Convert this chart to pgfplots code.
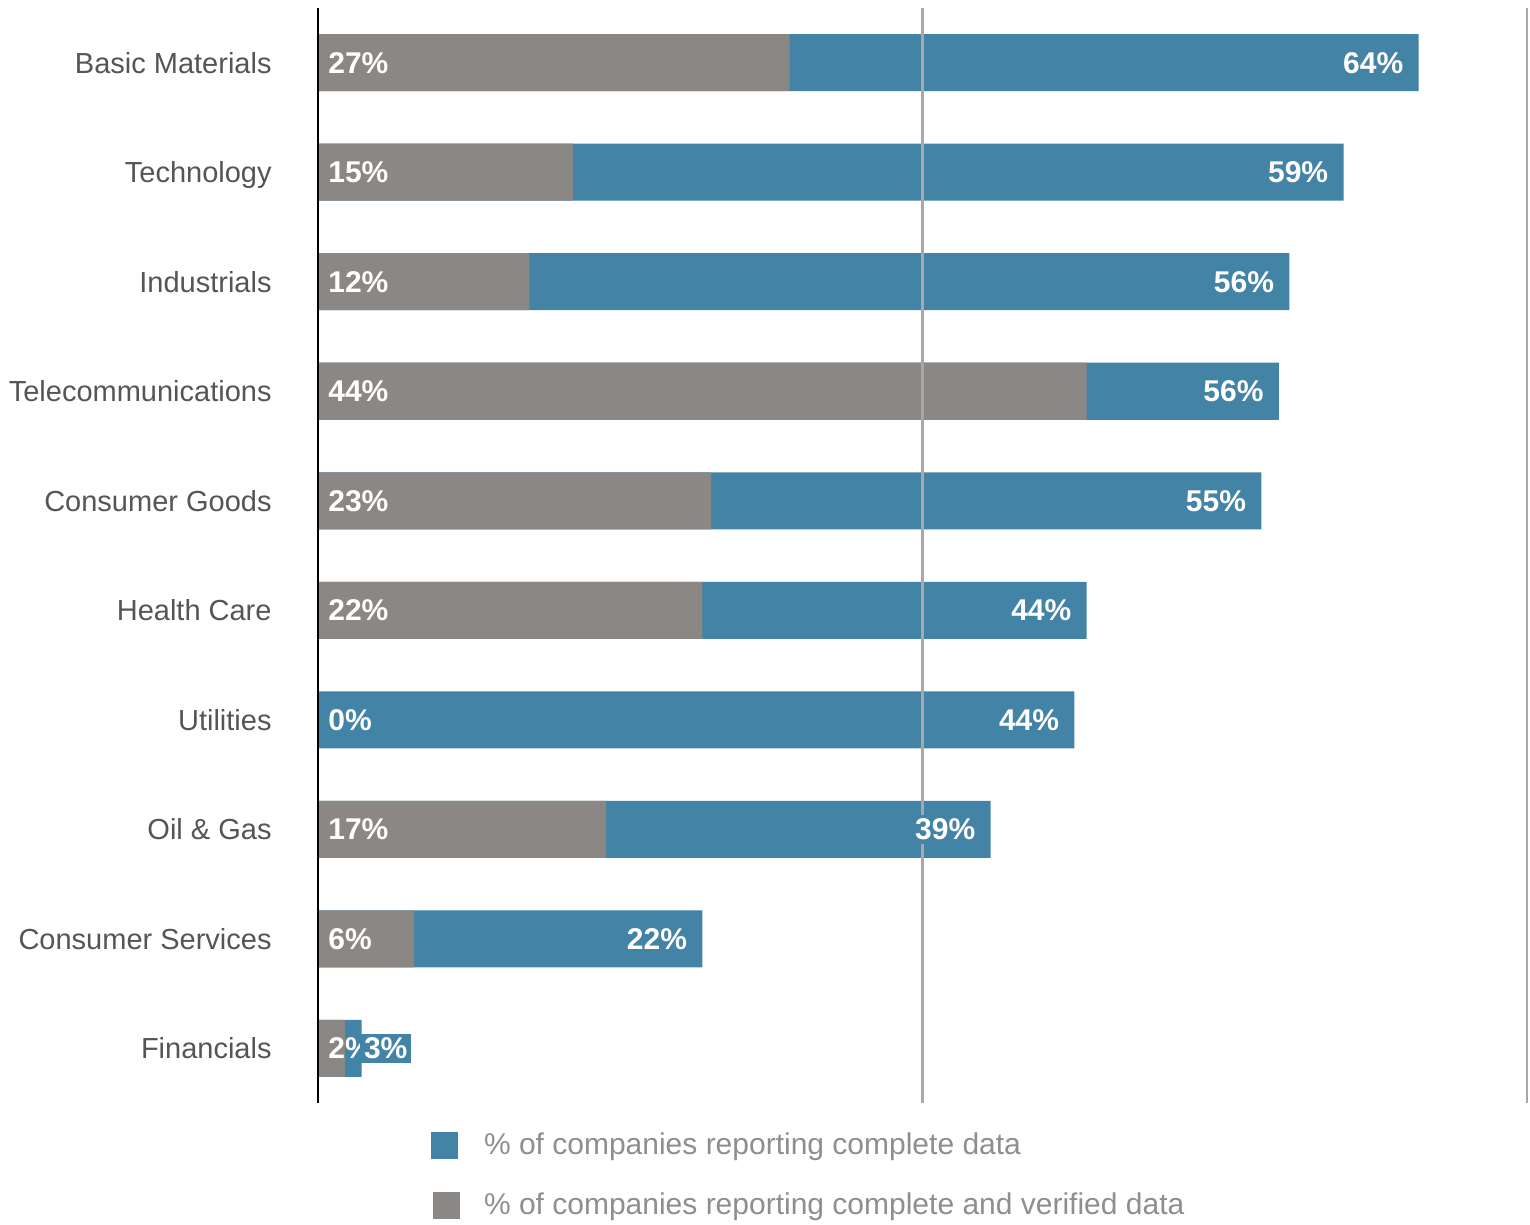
\documentclass[border=0pt]{standalone}
\usepackage{pgfplots}
\pgfplotsset{compat=1.18}
\usepackage{fontspec}
\setmainfont{Liberation Sans}
\definecolor{barblue}{HTML}{4283A6}
\definecolor{bargray}{HTML}{8B8785}
\definecolor{catgray}{HTML}{555555}
\definecolor{leggray}{HTML}{8E8E8E}
\definecolor{gridgray}{HTML}{A8A8A8}

\begin{document}
\begin{tikzpicture}
\begin{axis}[
  scale only axis,
  width=604.5pt, height=547.5pt,
  xbar, bar width=28.5pt, bar shift=0pt,
  xmin=0, xmax=69.2,
  ymin=-0.5, ymax=9.5, y dir=reverse,
  ytick={0,...,9},
  yticklabels={Basic Materials,Technology,Industrials,Telecommunications,Consumer Goods,Health Care,Utilities,Oil \& Gas,Consumer Services,Financials},
  yticklabel style={font=\fontsize{14.5}{16}\selectfont, text=catgray,
    anchor=base east, inner sep=0pt, xshift=-23pt, yshift=-5.3pt},
  major tick length=0pt,
  xtick={34.6,69.2}, xticklabels={},
  xmajorgrids, grid style={gridgray, line width=1.4pt},
  axis x line*=bottom, axis y line*=left,
  x axis line style={draw=none},
  y axis line style={black, line width=1.3pt},
  axis on top, clip=false,
  legend style={at={(axis description cs:0.0935,-0.0264)}, anchor=north west,
    draw=none, fill=none, inner sep=0pt, outer sep=0pt,
    row sep=16.4pt, column sep=12pt,
    font=\fontsize{15}{18}\selectfont, text=leggray,
    nodes={inner sep=0pt}, cells={anchor=west}},
  legend cell align=left,
]
% complete data
\addplot[fill=barblue, draw=none,
  legend image code/.code={\fill[barblue] (0pt,-6.75pt) rectangle (13.5pt,6.75pt);}]
  coordinates {(63.0,0) (58.7,1) (55.6,2) (55.0,3) (54.0,4) (44.0,5) (43.3,6) (38.5,7) (22.0,8) (2.5,9)};
\addlegendentry{\% of companies reporting complete data}
% complete and verified
\addplot[fill=bargray, draw=none,
  legend image code/.code={\fill[bargray] (1pt,-6.75pt) rectangle (14.5pt,6.75pt);}]
  coordinates {(27.0,0) (14.6,1) (12.1,2) (44.0,3) (22.5,4) (22.0,5) (0,6) (16.5,7) (5.5,8) (1.55,9)};
\addlegendentry{\% of companies reporting complete and verified data}
% labels of the grey bars
\addplot[forget plot, draw=none, fill=none, point meta=explicit symbolic,
  nodes near coords,
  nodes near coords style={anchor=west, xshift=5pt, inner sep=0pt, text=white,
    font=\bfseries\fontsize{15}{18}\selectfont}]
  coordinates {(0,0) [27\%] (0,1) [15\%] (0,2) [12\%] (0,3) [44\%] (0,4) [23\%]
    (0,5) [22\%] (0,6) [0\%] (0,7) [17\%] (0,8) [6\%] (0,9) [2\%]};
% labels of the blue bars
\addplot[forget plot, draw=none, fill=none, point meta=explicit symbolic,
  nodes near coords,
  nodes near coords style={anchor=east, xshift=-5.5pt, inner sep=2pt, fill=barblue, text=white,
    font=\bfseries\fontsize{15}{18}\selectfont}]
  coordinates {(63.0,0) [64\%] (58.7,1) [59\%] (55.6,2) [56\%] (55.0,3) [56\%] (54.0,4) [55\%]
    (44.0,5) [44\%] (43.3,6) [44\%] (38.5,7) [39\%] (22.0,8) [22\%] (6.0,9) [3\%]};
\coordinate (bl) at (axis description cs:-0.263,-0.1114);
\coordinate (tr) at (axis description cs:1.0025,1.0073);
\end{axis}
\pgfresetboundingbox
\useasboundingbox (bl) rectangle (tr);
\end{tikzpicture}
\end{document}
